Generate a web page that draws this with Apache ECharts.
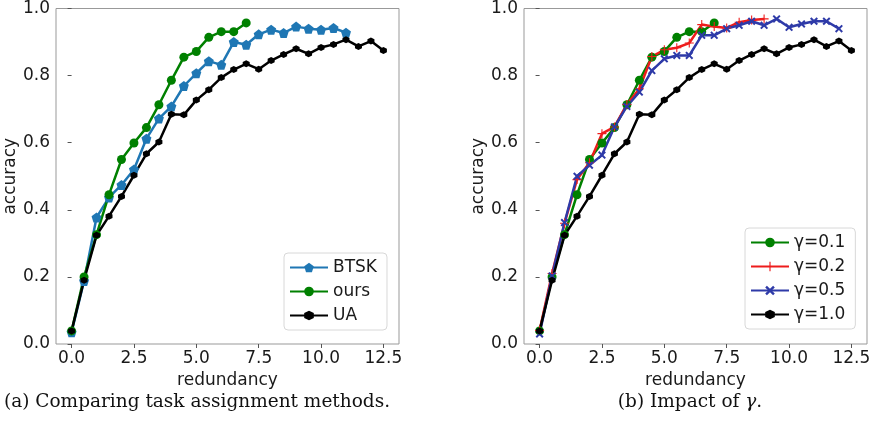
<!DOCTYPE html>
<html>
<head>
<meta charset="utf-8">
<script src="https://cdn.jsdelivr.net/npm/echarts@6/dist/echarts.min.js"></script>
<style>
  html, body { margin: 0; padding: 0; background: #fff; }
  #chart { width: 874px; height: 422px; }
</style>
</head>
<body>
<div id="chart"></div>
<script>
// x positions shared by all curves (redundancy)
const redundancy = [0, 0.5, 1, 1.5, 2, 2.5, 3, 3.5, 4, 4.5, 5, 5.5, 6, 6.5, 7, 7.5, 8, 8.5, 9, 9.5, 10, 10.5, 11, 11.5, 12, 12.5];
const xTicks = [0, 2.5, 5, 7.5, 10, 12.5];

// (a) comparing task assignment methods
const btsk = [0.035, 0.188, 0.377, 0.437, 0.474, 0.52, 0.612, 0.672, 0.708, 0.769, 0.807, 0.843, 0.832, 0.9, 0.892, 0.923, 0.937, 0.927, 0.946, 0.94, 0.937, 0.942, 0.928];
const ours = [0.039, 0.2, 0.326, 0.445, 0.55, 0.599, 0.645, 0.713, 0.786, 0.855, 0.872, 0.914, 0.931, 0.931, 0.957];
const ua = [0.039, 0.19, 0.324, 0.381, 0.44, 0.503, 0.567, 0.602, 0.685, 0.683, 0.727, 0.758, 0.794, 0.818, 0.835, 0.819, 0.845, 0.863, 0.880, 0.865, 0.884, 0.893, 0.907, 0.887, 0.903, 0.875];

// (b) impact of gamma
const gamma01 = ours;
const gamma02 = [0.04, 0.21, 0.36, 0.49, 0.54, 0.627, 0.647, 0.714, 0.761, 0.857, 0.877, 0.883, 0.897, 0.952, 0.946, 0.942, 0.959, 0.966, 0.969];
const gamma05 = [0.03, 0.203, 0.362, 0.5, 0.533, 0.563, 0.647, 0.708, 0.751, 0.815, 0.85, 0.86, 0.86, 0.92, 0.92, 0.94, 0.95, 0.962, 0.95, 0.969, 0.944, 0.954, 0.962, 0.962, 0.94];
const gamma10 = ua;

const FONT = 'DejaVu Sans';
const TXT = '#1a1a1a';
const FS = 17;

// marker shapes
const PENTAGON = 'path://M0,-1L0.951,-0.309L0.588,0.809L-0.588,0.809L-0.951,-0.309Z';
const HEXAGON = 'path://M0,-1L0.866,-0.5L0.866,0.5L0,1L-0.866,0.5L-0.866,-0.5Z';
const XMARK = 'path://M-1,-0.65L-0.65,-1L0,-0.35L0.65,-1L1,-0.65L0.35,0L1,0.65L0.65,1L0,0.35L-0.65,1L-1,0.65L-0.35,0Z';
const PLUS = 'path://M-0.12,-1L0.12,-1L0.12,-0.12L1,-0.12L1,0.12L0.12,0.12L0.12,1L-0.12,1L-0.12,0.12L-1,0.12L-1,-0.12L-0.12,-0.12Z';

function pairs(vals) {
  return vals.map(function (v, i) { return [redundancy[i], v]; });
}

function makeLine(name, vals, color, symbol, size, idx) {
  return {
    name: name,
    type: 'line',
    xAxisIndex: idx,
    yAxisIndex: idx,
    data: pairs(vals),
    symbol: symbol,
    symbolSize: size,
    showSymbol: true,
    itemStyle: { color: color },
    lineStyle: { width: 2.5, color: color }
  };
}

function xAxisOf(idx) {
  return {
    type: 'value',
    gridIndex: idx,
    min: -0.625,
    max: 13.125,
    name: 'redundancy',
    nameLocation: 'middle',
    nameGap: 25,
    nameTextStyle: { fontFamily: FONT, fontSize: FS, color: TXT },
    axisLine: { show: false },
    axisTick: { show: true, length: 4, customValues: xTicks, lineStyle: { color: '#555' } },
    axisLabel: {
      customValues: xTicks, margin: 6, fontFamily: FONT, fontSize: FS, color: TXT,
      formatter: function (v) { return v.toFixed(1); }
    },
    splitLine: { show: false }
  };
}

function yAxisOf(idx, gap) {
  return {
    type: 'value',
    gridIndex: idx,
    min: 0,
    max: 1,
    interval: 0.2,
    name: 'accuracy',
    nameLocation: 'middle',
    nameGap: gap,
    nameTextStyle: { fontFamily: FONT, fontSize: FS, color: TXT },
    axisLine: { show: false },
    axisTick: { show: true, length: 4, lineStyle: { color: '#555' } },
    axisLabel: {
      margin: 6, fontFamily: FONT, fontSize: FS, color: TXT,
      formatter: function (v) { return v.toFixed(1); }
    },
    splitLine: { show: false }
  };
}

const legendBase = {
  orient: 'vertical',
  itemWidth: 38,
  itemHeight: 12,
  itemGap: 7,
  padding: [6, 10, 6, 5],
  borderColor: '#d8d8d8',
  borderWidth: 1,
  borderRadius: 4,
  backgroundColor: '#fff',
  textStyle: { fontFamily: FONT, fontSize: FS, color: TXT }
};

const chart = echarts.init(document.getElementById('chart'), null, { renderer: 'canvas' });

const option = {
  animation: false,
  backgroundColor: '#fff',
  grid: [
    { left: 56, top: 8, width: 343, height: 336, show: true, borderColor: '#999', borderWidth: 1, backgroundColor: 'transparent' },
    { left: 524, top: 8, width: 343, height: 336, show: true, borderColor: '#999', borderWidth: 1, backgroundColor: 'transparent' }
  ],
  xAxis: [xAxisOf(0), xAxisOf(1)],
  yAxis: [yAxisOf(0, 35), yAxisOf(1, 29)],
  legend: [
    Object.assign({}, legendBase, { left: 284, top: 253, data: ['BTSK', 'ours', 'UA'] }),
    Object.assign({}, legendBase, { left: 745, top: 228, data: ['γ=0.1', 'γ=0.2', 'γ=0.5', 'γ=1.0'] })
  ],
  series: [
    makeLine('BTSK', btsk, '#1f77b4', PENTAGON, 10, 0),
    makeLine('ours', ours, '#008000', 'circle', 9, 0),
    makeLine('UA', ua, '#000000', HEXAGON, 7, 0),
    makeLine('γ=0.1', gamma01, '#008000', 'circle', 9, 1),
    makeLine('γ=0.2', gamma02, '#ee1c1c', PLUS, 9, 1),
    makeLine('γ=0.5', gamma05, '#2e3aa8', XMARK, 8, 1),
    makeLine('γ=1.0', gamma10, '#000000', HEXAGON, 7, 1)
  ],
  graphic: [
    {
      type: 'text', x: 197, y: 393,
      style: { text: '(a) Comparing task assignment methods.', font: '18.5px "DejaVu Serif"', fill: '#111', align: 'center' }
    },
    {
      type: 'text', x: 690, y: 393,
      style: {
        text: '(b) Impact of {g|γ}.',
        font: '18.5px "DejaVu Serif"', fill: '#111', align: 'center',
        rich: { g: { fontFamily: 'DejaVu Serif', fontStyle: 'italic', fontSize: 18.5, fill: '#111' } }
      }
    }
  ]
};

chart.setOption(option);
</script>
</body>
</html>
